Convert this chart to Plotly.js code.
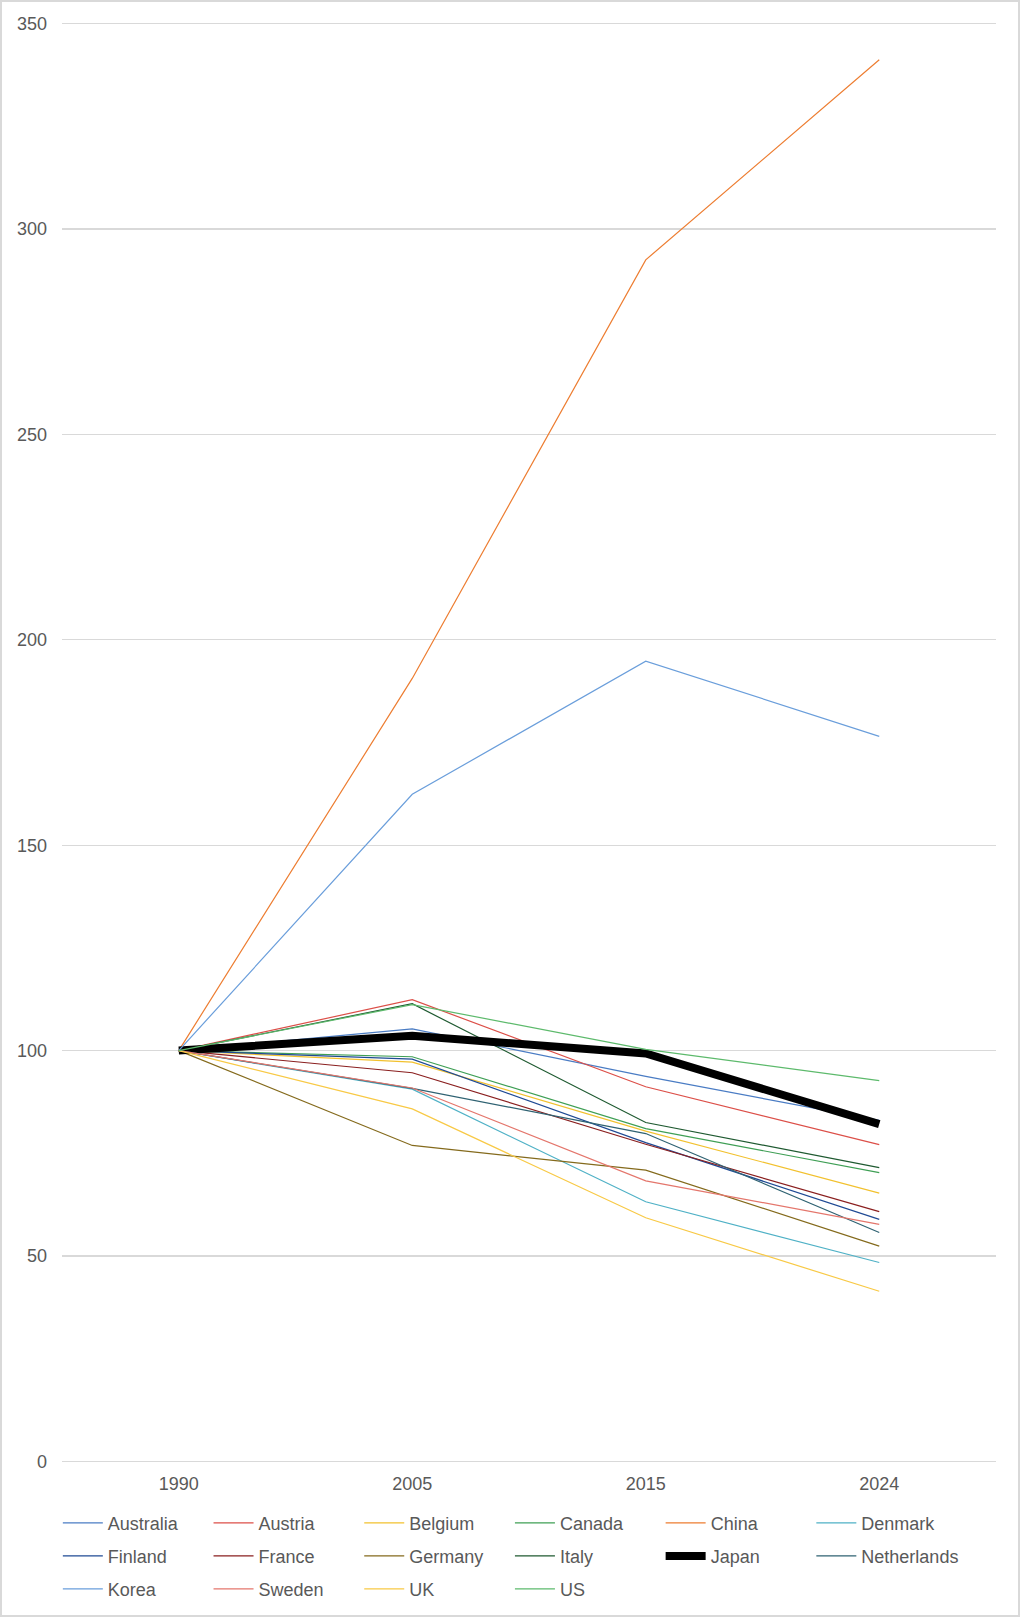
<!DOCTYPE html>
<html>
<head>
<meta charset="utf-8">
<script src="https://cdn.plot.ly/plotly-3.0.1.min.js"></script>
<style>
  body {margin: 0; background: #fff;}
  #wrap {position: relative; width: 1020px; height: 1617px;}
  #chart {position: absolute; left: 0; top: 0; width: 1020px; height: 1617px;}
  #frame {position: absolute; left: 0; top: 0; width: 1020px; height: 1617px;
          box-sizing: border-box; border: 2px solid #d9d9d9; pointer-events: none;}
</style>
</head>
<body>
<div id="wrap">
  <div id="chart"></div>
  <div id="frame"></div>
</div>
<script>

// index values, 1990 = 100
var years = ['1990', '2005', '2015', '2024']

var australia   = [100, 105.3,  93.7,  83.0]
var austria     = [100, 112.4,  91.2,  77.1]
var belgium     = [100,  97.2,  80.4,  65.3]
var canada      = [100,  98.5,  81.0,  70.3]
var china       = [100, 190.6, 292.5, 341.2]
var denmark     = [100,  90.6,  63.2,  48.4]
var finland     = [100,  97.9,  77.6,  58.9]
var france      = [100,  94.6,  77.2,  60.8]
var germany     = [100,  76.9,  70.9,  52.4]
var italy       = [100, 111.4,  82.5,  71.5]
var japan       = [100, 103.6,  99.3,  82.1]
var netherlands = [100,  90.8,  79.8,  55.7]
var korea       = [100, 162.4, 194.8, 176.5]
var sweden      = [100,  90.9,  68.3,  57.7]
var uk          = [100,  85.8,  59.3,  41.4]
var us          = [100, 111.2, 100.3,  92.7]

var names  = ['Australia','Austria','Belgium','Canada','China','Denmark',
              'Finland','France','Germany','Italy','Japan','Netherlands',
              'Korea','Sweden','UK','US']
var series = [australia, austria, belgium, canada, china, denmark,
              finland, france, germany, italy, japan, netherlands,
              korea, sweden, uk, us]
var colors = ['#4a7cc4','#dc4f48','#f2c12e','#3f9f55','#ed7d31','#4fb1c6',
              '#1f4a94','#8a1f1f','#846a1c','#1f5a31','#000000','#2f6272',
              '#6a9edb','#e4766c','#f8c945','#5dba6c']
var legendOf = ['legend','legend','legend','legend','legend','legend',
                'legend2','legend2','legend2','legend2','legend2','legend2',
                'legend3','legend3','legend3','legend3']

var FONT = 'Liberation Sans, Arial, sans-serif'
var GREY = '#595959'

var data = []
for (var i=0;i<names.length;i++) {
    data.push({
        type: 'scatter',
        mode: 'lines',
        name: names[i],
        x: years,
        y: series[i],
        legend: legendOf[i],
        line: {color: colors[i], width: names[i]=='Japan' ? 8 : 1.2},
        hoverinfo: 'x+y+name',
    })
}

// one legend per row, so the row spacing can match
// (container refs so the legends don't push the plot margins)
function legendRow(y) {
    return {
        orientation: 'h',
        xref: 'container', yref: 'container',
        x: 0.0567, xanchor: 'left',
        y: y, yanchor: 'middle',
        itemwidth: 40,
        entrywidth: 95.7,
        entrywidthmode: 'pixels',
        font: {family: FONT, size: 18, color: GREY},
        bgcolor: 'rgba(0,0,0,0)',
        borderwidth: 0,
    }
}

// range padded a little so the 0 and 350 gridlines are not clipped
var layout = {
    width: 1020,
    height: 1617,
    margin: {l: 62, r: 24, t: 22.4, b: 154.4},
    paper_bgcolor: '#fff',
    plot_bgcolor: '#fff',
    font: {family: FONT, size: 18, color: GREY},
    showlegend: true,
    xaxis: {
        type: 'category',
        range: [-0.5, 3.5],
        showgrid: false,
        zeroline: false,
        showline: false,
        ticks: '',
        ticklabelstandoff: 8,
        tickfont: {family: FONT, size: 18, color: GREY},
        fixedrange: true,
    },
    yaxis: {
        range: [-0.4, 350.4],
        tick0: 0,
        dtick: 50,
        showgrid: true,
        gridcolor: '#d9d9d9',
        gridwidth: 1.3,
        zeroline: false,
        showline: false,
        ticks: '',
        ticklabelstandoff: 14,
        tickfont: {family: FONT, size: 18, color: GREY},
        fixedrange: true,
    },
    legend:  legendRow(0.0580),
    legend2: legendRow(0.0376),
    legend3: legendRow(0.0172),
}

Plotly.newPlot('chart', data, layout, {displayModeBar: false, staticPlot: true})
</script>
</body>
</html>
